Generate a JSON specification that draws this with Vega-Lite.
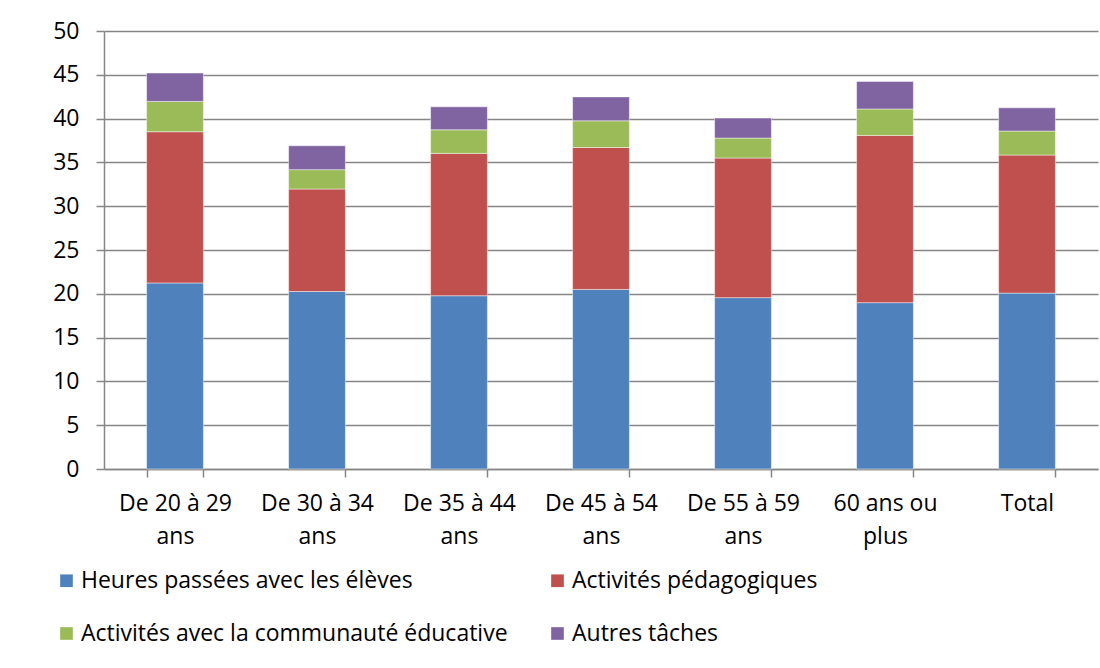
{
  "$schema": "https://vega.github.io/schema/vega-lite/v6.json",
  "width": 994,
  "height": 438,
  "autosize": {"type": "none"},
  "padding": {"left": 104, "top": 31, "right": 2, "bottom": 199},
  "background": "white",
  "config": {
    "font": "Open Sans",
    "view": {"stroke": null},
    "axis": {"labelFont": "Open Sans", "labelColor": "#000000", "labelFontSize": 23}
  },
  "data": {
    "values": [
      {"age": "De 20 à 29 ans", "cat": "Heures passées avec les élèves", "ord": 1, "v": 21.24},
      {"age": "De 20 à 29 ans", "cat": "Activités pédagogiques", "ord": 2, "v": 17.26},
      {"age": "De 20 à 29 ans", "cat": "Activités avec la communauté éducative", "ord": 3, "v": 3.46},
      {"age": "De 20 à 29 ans", "cat": "Autres tâches", "ord": 4, "v": 3.24},
      {"age": "De 30 à 34 ans", "cat": "Heures passées avec les élèves", "ord": 1, "v": 20.26},
      {"age": "De 30 à 34 ans", "cat": "Activités pédagogiques", "ord": 2, "v": 11.7},
      {"age": "De 30 à 34 ans", "cat": "Activités avec la communauté éducative", "ord": 3, "v": 2.21},
      {"age": "De 30 à 34 ans", "cat": "Autres tâches", "ord": 4, "v": 2.73},
      {"age": "De 35 à 44 ans", "cat": "Heures passées avec les élèves", "ord": 1, "v": 19.78},
      {"age": "De 35 à 44 ans", "cat": "Activités pédagogiques", "ord": 2, "v": 16.25},
      {"age": "De 35 à 44 ans", "cat": "Activités avec la communauté éducative", "ord": 3, "v": 2.69},
      {"age": "De 35 à 44 ans", "cat": "Autres tâches", "ord": 4, "v": 2.62},
      {"age": "De 45 à 54 ans", "cat": "Heures passées avec les élèves", "ord": 1, "v": 20.5},
      {"age": "De 45 à 54 ans", "cat": "Activités pédagogiques", "ord": 2, "v": 16.2},
      {"age": "De 45 à 54 ans", "cat": "Activités avec la communauté éducative", "ord": 3, "v": 3.05},
      {"age": "De 45 à 54 ans", "cat": "Autres tâches", "ord": 4, "v": 2.73},
      {"age": "De 55 à 59 ans", "cat": "Heures passées avec les élèves", "ord": 1, "v": 19.56},
      {"age": "De 55 à 59 ans", "cat": "Activités pédagogiques", "ord": 2, "v": 15.94},
      {"age": "De 55 à 59 ans", "cat": "Activités avec la communauté éducative", "ord": 3, "v": 2.28},
      {"age": "De 55 à 59 ans", "cat": "Autres tâches", "ord": 4, "v": 2.28},
      {"age": "60 ans ou plus", "cat": "Heures passées avec les élèves", "ord": 1, "v": 18.99},
      {"age": "60 ans ou plus", "cat": "Activités pédagogiques", "ord": 2, "v": 19.09},
      {"age": "60 ans ou plus", "cat": "Activités avec la communauté éducative", "ord": 3, "v": 3.02},
      {"age": "60 ans ou plus", "cat": "Autres tâches", "ord": 4, "v": 3.14},
      {"age": "Total", "cat": "Heures passées avec les élèves", "ord": 1, "v": 20.08},
      {"age": "Total", "cat": "Activités pédagogiques", "ord": 2, "v": 15.76},
      {"age": "Total", "cat": "Activités avec la communauté éducative", "ord": 3, "v": 2.74},
      {"age": "Total", "cat": "Autres tâches", "ord": 4, "v": 2.65}
    ]
  },
  "mark": {"type": "bar", "stroke": "#ffffff", "strokeOpacity": 0.45, "strokeWidth": 1},
  "encoding": {
    "x": {
      "field": "age",
      "type": "nominal",
      "sort": null,
      "scale": {"paddingInner": 0.6, "paddingOuter": 0.3},
      "axis": {
        "title": null,
        "labelAngle": 0,
        "tickBand": "extent",
        "domainColor": "#868686",
        "domainWidth": 1.5,
        "tickColor": "#868686",
        "tickWidth": 1.5,
        "tickSize": 8,
        "labelPadding": 15,
        "labelLineHeight": 33,
        "labelExpr": "indexof(datum.label, ' ') < 0 ? datum.label : [substring(datum.label, 0, lastindexof(datum.label, ' ')), substring(datum.label, lastindexof(datum.label, ' ') + 1)]"
      }
    },
    "y": {
      "field": "v",
      "type": "quantitative",
      "stack": "zero",
      "scale": {"domain": [0, 50], "nice": false},
      "axis": {
        "title": null,
        "values": [0, 5, 10, 15, 20, 25, 30, 35, 40, 45, 50],
        "grid": true,
        "gridColor": "#868686",
        "gridWidth": 1.5,
        "domainColor": "#868686",
        "domainWidth": 1.5,
        "tickColor": "#868686",
        "tickWidth": 1.5,
        "tickSize": 8,
        "labelPadding": 17
      }
    },
    "color": {
      "field": "cat",
      "type": "nominal",
      "scale": {
        "domain": ["Heures passées avec les élèves", "Activités pédagogiques", "Activités avec la communauté éducative", "Autres tâches"],
        "range": ["#4F81BD", "#C0504D", "#9BBB59", "#8064A2"]
      },
      "legend": {
        "title": null,
        "orient": "none",
        "legendX": -49,
        "legendY": 538,
        "direction": "horizontal",
        "columns": 2,
        "columnPadding": 38,
        "rowPadding": 29,
        "symbolType": "square",
        "symbolSize": 160,
        "symbolStrokeWidth": 0,
        "labelOffset": 3,
        "labelFont": "Open Sans",
        "labelFontSize": 23,
        "labelColor": "#000000",
        "labelLimit": 600
      }
    },
    "order": {"field": "ord", "type": "quantitative"}
  }
}
